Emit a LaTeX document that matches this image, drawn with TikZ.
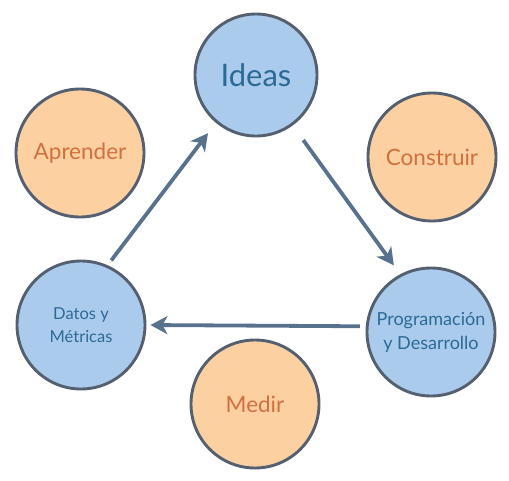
\documentclass[tikz,border=0pt]{standalone}
\usepackage{fontspec}
\setmainfont{Lato}
\usepackage{tikz}
\usetikzlibrary{arrows.meta,positioning}
\definecolor{CycleBlue}{RGB}{170,203,236}
\definecolor{CycleOrange}{RGB}{253,208,162}
\definecolor{RimGray}{RGB}{84,96,112}
\definecolor{LinkBlue}{RGB}{88,114,142}
\definecolor{TextBlue}{RGB}{44,106,150}
\definecolor{TextOrange}{RGB}{210,112,62}

\begin{document}
\begin{tikzpicture}[
  x=1pt,y=-1pt,
  stage/.style={
    circle,
    draw=RimGray,
    line width=2.9pt,
    inner sep=0pt,
    minimum size=128pt,
    align=center,
    fill=CycleBlue,
    text=TextBlue
  },
  phase/.style={
    stage,
    fill=CycleOrange,
    text=TextOrange,
    font=\fontsize{22.5}{26}\selectfont
  },
  arrow/.style={-{Stealth[length=17pt,width=18pt,inset=5pt]},line width=3.8pt,LinkBlue}
]
\useasboundingbox (0,0) rectangle (509,480);
\node[stage,minimum size=122pt,font=\fontsize{31}{34}\selectfont] (ideas) at (256,75) {Ideas};
\node[stage,font=\fontsize{16.5}{23}\selectfont] (datos) at (81,325) {Datos y\\Métricas};
\node[stage,font=\fontsize{18}{24}\selectfont] (prog) at (431,332) {Programación\\y Desarrollo};
\node[phase] (aprender) at (80,153) {Aprender};
\node[phase] (construir) at (432,157) {Construir};
\node[phase] (medir) at (255,404) {Medir};
\draw[arrow,shorten <=6pt,shorten >=13pt] (datos.66) -- (ideas.230);
\draw[arrow,shorten <=18pt,shorten >=11pt] (ideas.306) -- (prog.118);
\draw[arrow,shorten <=6pt,shorten >=4pt] (prog.175) -- (datos.0);
\end{tikzpicture}
\end{document}
